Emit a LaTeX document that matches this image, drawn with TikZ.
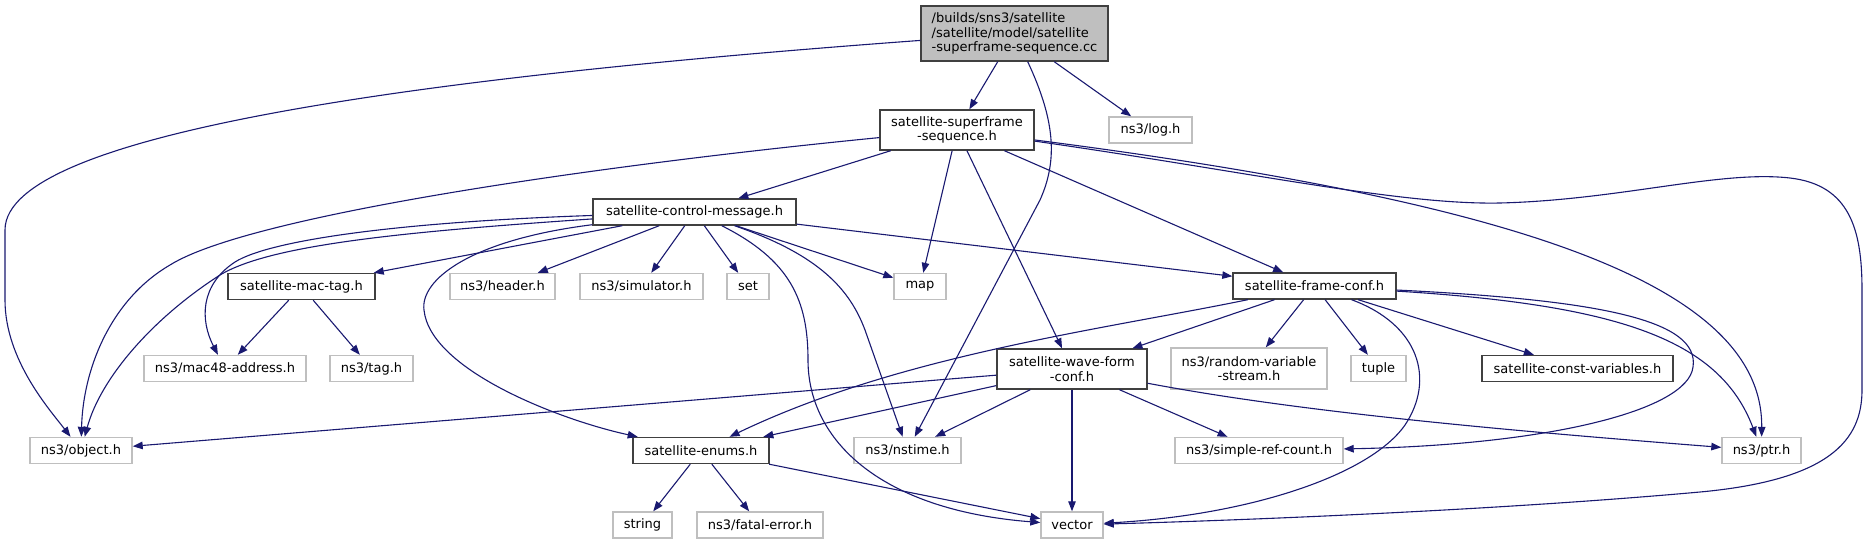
\documentclass[tikz,border=0pt]{standalone}
\usepackage{fontspec}
\setmainfont{DejaVu Sans}
\usetikzlibrary{arrows.meta}
\definecolor{edgeblue}{HTML}{191970}
\definecolor{docgray}{HTML}{404040}
\definecolor{extgray}{HTML}{BFBFBF}
\begin{document}
\begin{tikzpicture}[x=1pt, y=-1pt,
    every node/.style={rectangle, inner sep=0pt, minimum height=26pt, align=center,
        font=\fontsize{13}{14.7}\selectfont},
    doc/.style={draw=docgray, line width=1.4pt, fill=white},
    ext/.style={draw=extgray, line width=1.4pt, fill=white},
    dep/.style={draw=edgeblue, line width=1.1pt, -{Triangle[length=10pt, width=7.5pt]}}]
    \useasboundingbox (0,0) rectangle (1868,544);

    \node[doc, fill=extgray, minimum width=187pt, minimum height=55pt, align=left] (root) at (1014.5,33.5)
        {/builds/sns3/satellite\\/satellite/model/satellite\\-superframe-sequence.cc};
    \node[doc, minimum width=154pt, minimum height=40pt] (sfseq) at (957,130) {satellite-superframe\\-sequence.h};
    \node[ext, minimum width=83pt] (log) at (1150.5,130) {ns3/log.h};
    \node[doc, minimum width=203pt] (ctrlmsg) at (694.5,212) {satellite-control-message.h};
    \node[doc, minimum width=147pt] (mactag) at (301.5,286.5) {satellite-mac-tag.h};
    \node[ext, minimum width=105pt] (header) at (502.5,286.5) {ns3/header.h};
    \node[ext, minimum width=123pt] (simulator) at (641.5,286.5) {ns3/simulator.h};
    \node[ext, minimum width=42pt] (set) at (748,286.5) {set};
    \node[ext, minimum width=52pt] (map) at (920,286.5) {map};
    \node[doc, minimum width=163pt] (frameconf) at (1314.5,286) {satellite-frame-conf.h};
    \node[ext, minimum width=162pt] (mac48) at (225,368.5) {ns3/mac48-address.h};
    \node[ext, minimum width=83pt] (tag) at (371.5,368.5) {ns3/tag.h};
    \node[doc, minimum width=150pt, minimum height=40pt] (waveform) at (1072,369) {satellite-wave-form\\-conf.h};
    \node[ext, minimum width=156pt, minimum height=41pt] (random) at (1249,368.5) {ns3/random-variable\\-stream.h};
    \node[ext, minimum width=55pt] (tuple) at (1378.5,368.5) {tuple};
    \node[doc, minimum width=191pt] (constvar) at (1577.5,368.5) {satellite-const-variables.h};
    \node[ext, minimum width=102pt] (object) at (81,450.5) {ns3/object.h};
    \node[doc, minimum width=136pt] (enums) at (701,450.5) {satellite-enums.h};
    \node[ext, minimum width=107pt] (nstime) at (907.5,450.5) {ns3/nstime.h};
    \node[ext, minimum width=168pt] (refcount) at (1259,450.5) {ns3/simple-ref-count.h};
    \node[ext, minimum width=79pt] (ptr) at (1761.5,450.5) {ns3/ptr.h};
    \node[ext, minimum width=59pt] (string) at (642.5,525) {string};
    \node[ext, minimum width=126pt] (fatal) at (760,525) {ns3/fatal-error.h};
    \node[ext, minimum width=62pt] (vector) at (1072,525) {vector};

    \draw[dep] (root) .. controls (450,75) and (5,130) .. (5,230) -- (5,300) .. controls (5,360) and (50,410) .. (object);
    \draw[dep] (root) -- (sfseq);
    \draw[dep] (root) .. controls (1055,120) and (1058,160) .. (1040,200) -- (nstime);
    \draw[dep] (root) -- (log);

    \draw[dep] (sfseq) .. controls (600,165) and (250,215) .. (170,265) .. controls (110,300) and (83,370) .. (object);
    \draw[dep] (sfseq) -- (ctrlmsg);
    \draw[dep] (sfseq) -- (map);
    \draw[dep] (sfseq) -- (waveform);
    \draw[dep] (sfseq) -- (frameconf);
    \draw[dep] (sfseq) .. controls (1500,200) and (1763,280) .. (ptr);
    \draw[dep] (sfseq) .. controls (1250,172) and (1400,205) .. (1500,203) .. controls (1620,200) and (1720,170) .. (1790,178)
        .. controls (1850,185) and (1862,230) .. (1862,290) -- (1862,390) .. controls (1862,440) and (1830,480) .. (1700,492)
        .. controls (1500,510) and (1250,520) .. (vector);

    \draw[dep] (ctrlmsg) -- (mactag);
    \draw[dep] (ctrlmsg) .. controls (400,222) and (270,240) .. (235,262) .. controls (200,285) and (200,320) .. (mac48);
    \draw[dep] (ctrlmsg) .. controls (400,232) and (270,245) .. (220,275) .. controls (150,320) and (100,380) .. (object);
    \draw[dep] (ctrlmsg) .. controls (470,240) and (420,280) .. (424,310) .. controls (430,370) and (560,420) .. (enums);
    \draw[dep] (ctrlmsg) -- (header);
    \draw[dep] (ctrlmsg) -- (simulator);
    \draw[dep] (ctrlmsg) -- (set);
    \draw[dep] (ctrlmsg) .. controls (790,260) and (808,300) .. (808,360) .. controls (808,440) and (880,510) .. (vector);
    \draw[dep] (ctrlmsg) .. controls (820,255) and (850,290) .. (865,330) -- (nstime);
    \draw[dep] (ctrlmsg) -- (map);
    \draw[dep] (ctrlmsg) -- (frameconf);

    \draw[dep] (mactag) -- (mac48);
    \draw[dep] (mactag) -- (tag);

    \draw[dep] (frameconf) .. controls (1100,330) and (900,355) .. (enums);
    \draw[dep] (frameconf) -- (waveform);
    \draw[dep] (frameconf) -- (random);
    \draw[dep] (frameconf) -- (tuple);
    \draw[dep] (frameconf) .. controls (1420,325) and (1435,380) .. (1405,425) .. controls (1370,475) and (1250,515) .. (vector);
    \draw[dep] (frameconf) -- (constvar);
    \draw[dep] (frameconf) .. controls (1600,300) and (1700,320) .. (1693,367) .. controls (1688,410) and (1550,445) .. (refcount);
    \draw[dep] (frameconf) .. controls (1620,305) and (1720,340) .. (ptr);

    \draw[dep] (waveform) -- (object);
    \draw[dep] (waveform) -- (enums);
    \draw[dep] (waveform) -- (nstime);
    \draw[dep] (waveform) -- (vector);
    \draw[dep] (waveform) -- (refcount);
    \draw[dep] (waveform) .. controls (1300,412) and (1500,430) .. (ptr);

    \draw[dep] (enums) -- (string);
    \draw[dep] (enums) -- (fatal);
    \draw[dep] (enums) -- (vector);
\end{tikzpicture}
\end{document}
